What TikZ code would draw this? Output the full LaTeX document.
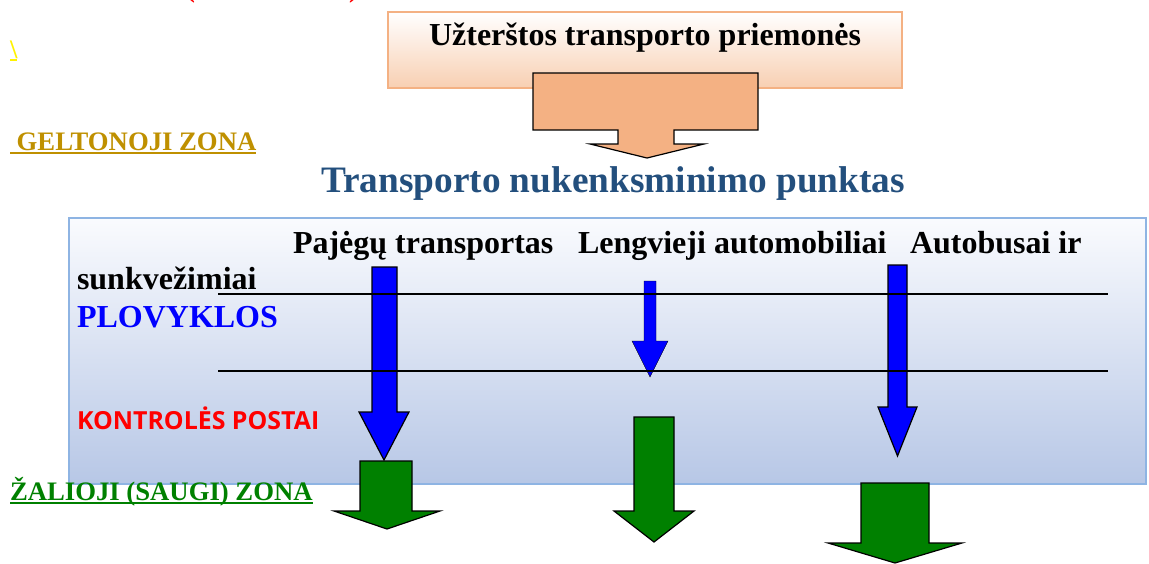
\documentclass[tikz,border=0pt]{standalone}
\usepackage{fontspec}
\setmainfont{Liberation Serif}
\newfontfamily\osans{Open Sans}
\definecolor{titleblue}{RGB}{35,79,125}
\definecolor{goldtxt}{RGB}{191,144,0}
\definecolor{greentxt}{RGB}{0,128,0}
\definecolor{arrgreen}{RGB}{0,128,0}
\definecolor{peach}{RGB}{244,177,131}
\definecolor{peachlow}{RGB}{248,207,178}
\definecolor{boxblue}{RGB}{142,180,227}
\definecolor{boxlow}{RGB}{183,199,230}
\definecolor{boxhigh}{RGB}{250,251,254}
\newcommand\myul[3]{\setbox0\hbox{#3}\rlap{\rule[#1]{\wd0}{#2}}\box0}
\newcommand\blockarrow[8]{\draw[#1] (#2,#4) -- (#3,#4) -- (#3,#5) -- (#7,#5) -- ({(#6+#7)/2},#8) -- (#6,#5) -- (#2,#5) -- cycle;}
\tikzset{
  txt/.style={inner sep=0pt, outer sep=0pt, anchor=base west},
  bluearr/.style={fill=blue, draw=black, line width=1.2pt, line join=miter},
  bluearrnb/.style={fill=blue},
  greenarr/.style={fill=arrgreen, draw=black, line width=1.2pt, line join=miter},
  sepline/.style={draw=black, line width=1.3pt},
}
\begin{document}
\begin{tikzpicture}[x=1pt,y=-1pt]
\useasboundingbox (0,0) rectangle (1149,563);
% clipped red parentheses at top
\node[txt, text=red, font=\fontsize{26.7}{30}\selectfont\bfseries] (rp1) at (186,-3) {(};
\node[txt, text=red, font=\fontsize{26.7}{30}\selectfont\bfseries] (rp2) at (349,-3) {)};
% yellow backslash
\node[txt, text=yellow, font=\fontsize{26.7}{30}\selectfont\bfseries] (ybs) at (10,58) {\myul{-3pt}{1.6pt}{\textbackslash}};
% Geltonoji zona
\node[txt, text=goldtxt, font=\fontsize{26.7}{30}\selectfont\bfseries] (gelt) at (10,150) {\myul{-3.5pt}{1.8pt}{\ GELTONOJI ZONA}};
% top box
\draw[draw=peach, line width=2pt, top color=white, bottom color=peachlow] (388,12) rectangle (902,88);
\node[txt, anchor=base, font=\fontsize{32}{36}\selectfont\bfseries] (topbox) at (645,45) {Užterštos transporto priemonės};
% orange arrow
\draw[fill=peach, draw=black, line width=1.2pt, line join=miter]
  (533,73) -- (758,73) -- (758,130) -- (674,130) -- (674,144) -- (704,144) -- (647,158)
  -- (590,144) -- (618,144) -- (618,130) -- (533,130) -- cycle;
% title
\node[txt, anchor=base, text=titleblue, font=\fontsize{37.3}{42}\selectfont\bfseries] (title) at (613,192) {Transporto nukenksminimo punktas};
% blue box
\draw[draw=boxblue, line width=2pt, top color=boxhigh, bottom color=boxlow] (69,218) rectangle (1146,484);
% texts inside
\node[txt, font=\fontsize{32}{36}\selectfont\bfseries] (t1) at (293,253) {Pajėgų transportas};
\node[txt, font=\fontsize{32}{36}\selectfont\bfseries] (t2) at (578,253) {Lengvieji automobiliai};
\node[txt, font=\fontsize{32}{36}\selectfont\bfseries] (t3) at (910,253) {Autobusai ir};
\node[txt, font=\fontsize{32}{36}\selectfont\bfseries] (t4) at (77,289) {sunkvežimiai};
\node[txt, text=blue, font=\fontsize{32}{36}\selectfont\bfseries] (plov) at (77,327) {PLOVYKLOS};
\node[txt, text=red, font=\osans\fontsize{24.9}{28}\selectfont\bfseries] (kontr) at (77,429) {KONTROLĖS POSTAI};
% blue arrows
\blockarrow{bluearr}{372}{397}{267}{412}{359}{409}{460}
\blockarrow{bluearrnb}{644}{656}{281}{341}{632}{668}{377}
\blockarrow{bluearr}{888}{907}{265}{407}{878}{917}{456}
% separator lines
\coordinate (l1a) at (218,294); \coordinate (l1b) at (1108,294);
\coordinate (l2a) at (218,371); \coordinate (l2b) at (1108,371);
\draw[sepline] (l1a) -- (l1b);
\draw[sepline] (l2a) -- (l2b);
% green arrows
\blockarrow{greenarr}{360}{412}{461}{511}{334}{440}{529}
\blockarrow{greenarr}{634}{674}{417}{511}{614}{694}{542}
\blockarrow{greenarr}{861}{929}{483}{543}{828}{962}{563}
% Zalioji zona
\node[txt, text=greentxt, font=\fontsize{26.7}{30}\selectfont\bfseries] (zal) at (10,500) {\myul{-3.5pt}{1.8pt}{ŽALIOJI (SAUGI) ZONA}};
\end{tikzpicture}
\end{document}
